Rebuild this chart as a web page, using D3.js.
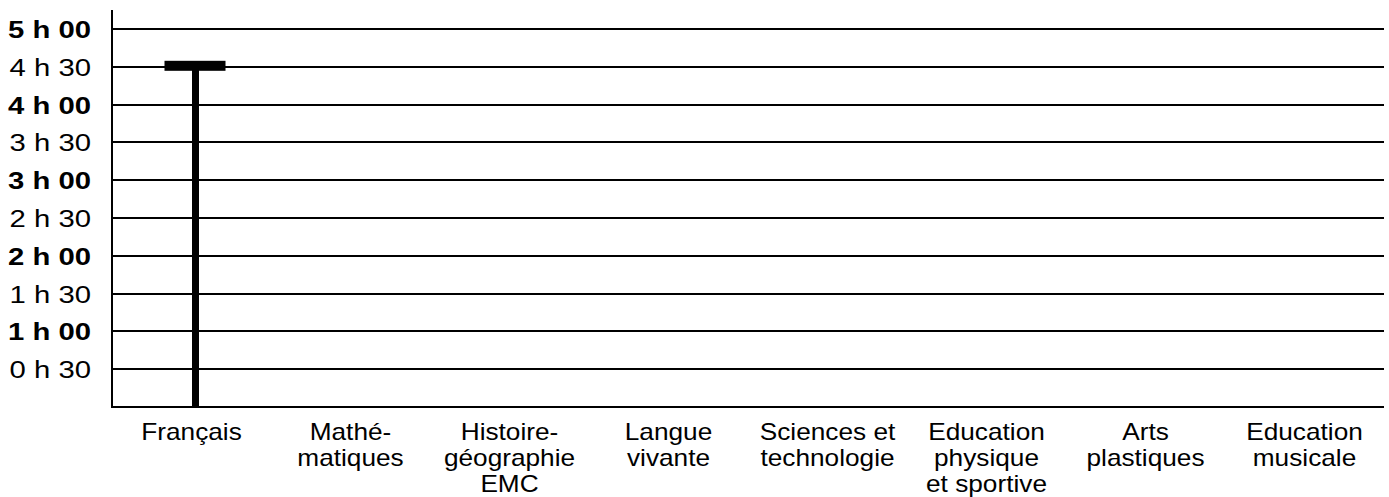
<!DOCTYPE html>
<html>
<head>
<meta charset="utf-8">
<script src="https://cdn.jsdelivr.net/npm/d3@7"></script>
<style>
  body { margin: 0; background: #fff; }
  text { font-family: "Liberation Sans", Arial, sans-serif; fill: #000; }
</style>
</head>
<body>
<script>
// categories (multi-line labels) and minutes per week
var categories = ["Français", "Mathématiques", "Histoire-géographie EMC", "Langue vivante",
                  "Sciences et technologie", "Education physique et sportive",
                  "Arts plastiques", "Education musicale"];
var catLines = [["Français"], ["Mathé-", "matiques"], ["Histoire-", "géographie", "EMC"],
                ["Langue", "vivante"], ["Sciences et", "technologie"],
                ["Education", "physique", "et sportive"], ["Arts", "plastiques"],
                ["Education", "musicale"]];
var minutes = [270, null, null, null, null, null, null, null];
var tickValues = [30, 60, 90, 120, 150, 180, 210, 240, 270, 300];
var tickLabels = ["0 h 30", "1 h 00", "1 h 30", "2 h 00", "2 h 30", "3 h 00", "3 h 30", "4 h 00", "4 h 30", "5 h 00"];

var W = 1389, H = 497;
var plotLeft = 112, plotRight = 1384, plotBottom = 407, plotTop = 29;

var svg = d3.select("body").append("svg").attr("width", W).attr("height", H);

var x = d3.scaleBand().domain(categories).range([plotLeft, plotRight]);
var y = d3.scaleLinear().domain([0, 300]).range([plotBottom, plotTop]);

// gridlines
svg.append("g").selectAll("line")
  .data(tickValues).enter().append("line")
  .attr("x1", plotLeft).attr("x2", plotRight)
  .attr("y1", function(d) { return Math.round(y(d)); }).attr("y2", function(d) { return Math.round(y(d)); })
  .attr("stroke", "#000").attr("stroke-width", 2);

// tick labels, bold on the hour
svg.append("g").selectAll("text")
  .data(tickValues).enter().append("text")
  .attr("transform", function(d) { return "translate(91," + (y(d) + 9) + ") scale(1.22,1)"; })
  .attr("text-anchor", "end")
  .style("font-size", "24px")
  .style("font-weight", function(d) { return d % 60 == 0 ? "bold" : "normal"; })
  .text(function(d, i) { return tickLabels[i]; });

// axes lines
svg.append("line").attr("x1", plotLeft).attr("x2", plotLeft).attr("y1", 10).attr("y2", plotBottom + 1)
  .attr("stroke", "#000").attr("stroke-width", 2);
svg.append("line").attr("x1", plotLeft - 1).attr("x2", plotRight).attr("y1", plotBottom).attr("y2", plotBottom)
  .attr("stroke", "#000").attr("stroke-width", 2);

// T marks
var marks = svg.append("g").selectAll("g")
  .data(categories.map(function(c, i) { return { cat: c, v: minutes[i] }; })
        .filter(function(d) { return d.v != null; }))
  .enter().append("g")
  .attr("transform", function(d) { return "translate(" + (x(d.cat) + x.bandwidth() / 2 + 4) + ",0)"; });
marks.append("rect")
  .attr("x", -3.5).attr("width", 7)
  .attr("y", function(d) { return y(d.v); })
  .attr("height", function(d) { return y(0) - y(d.v); });
marks.append("rect")
  .attr("x", -31).attr("width", 61)
  .attr("y", function(d) { return y(d.v) - 6; })
  .attr("height", 10);

// category labels
var lab = svg.append("g").selectAll("text")
  .data(categories).enter().append("text")
  .attr("transform", function(d) { return "translate(" + (x(d) + x.bandwidth() / 2) + ",440) scale(1.14,1)"; })
  .attr("text-anchor", "middle")
  .style("font-size", "23px");
lab.selectAll("tspan")
  .data(function(d, i) { return catLines[i]; }).enter().append("tspan")
  .attr("x", 0).attr("y", function(d, i) { return i * 26; })
  .text(function(d) { return d; });
</script>
</body>
</html>
